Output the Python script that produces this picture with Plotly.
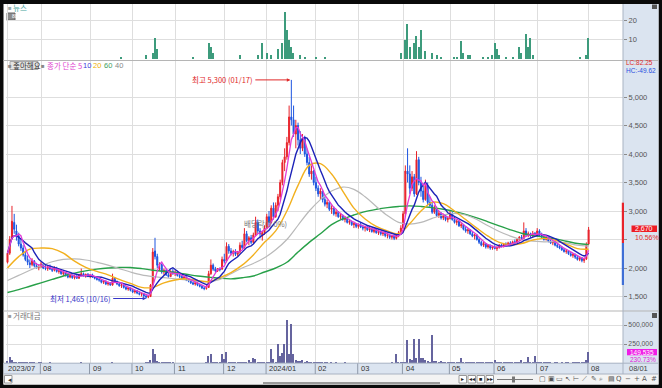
import plotly.graph_objects as go
import pandas as pd

W, H = 662, 388

# ---------------- data ----------------
month_idx = [0, 15, 37, 56, 75, 97, 116, 138, 157, 177, 198, 218, 237, 260]
month_lbl = ["2023/07", "08", "09", "10", "11", "12", "2024/01", "02", "03", "04", "05", "06", "07", "08"]

opens = [2100,2260,2520,2800,2650,2560,2420,2350,2230,2150, 2090,2060,2120,2040,2010,2030,2070,2000,1990,2020,
         1980,1960,2000,1940,1950,1900,1920,1870,1840,1870, 1830,1860,1820,1880,1900,1870,1890,1850,1880,1840,
         1820,1800,1790,1750,1770,1720,1740,1700,1820,1760, 1720,1690,1700,1660,1630,1650,1610,1580,1600,1560,
         1540,1550,1510,1490,1500,1700,2300,2200,2050,2060, 1930,1960,1880,1850,1940,1900,1930,1870,1850,1810,
         1840,1790,1770,1740,1720,1740,1700,1680,1650,1640, 1660,1900,2050,1980,1950,1990,1980,2150,2120,2380,
         2300,2260,2290,2240,2280,2400,2360,2600,2480,2530, 2450,2580,2800,2650,2560,2620,2700,2900,2800,3050,
         2900,3100,3250,3500,3850,3950,4200,4650,4600,4350, 4500,4250,4100,4280,4000,3850,3650,3700,3500,3400,
         3300,3350,3200,3120,3150,3030,3050,2950,2980,2900, 2920,2850,2870,2800,2820,2760,2780,2730,2760,2720,
         2700,2720,2670,2690,2640,2680,2620,2640,2600,2620, 2570,2580,2540,2560,2520,2580,2620,2700,2950,3700,
         3650,3400,3600,3300,3900,3500,3350,3200,3450,3150, 3100,2980,3050,2920,2960,2880,2920,2850,2870,2950,
         2850,2800,2820,2740,2760,2680,2650,2670,2600,2560, 2580,2500,2450,2400,2430,2370,2400,2350,2370,2340,
         2360,2400,2380,2420,2400,2440,2420,2460,2450,2500, 2540,2520,2650,2580,2600,2560,2610,2570,2650,2580,
         2550,2500,2540,2470,2440,2460,2400,2380,2350,2320, 2290,2300,2250,2220,2240,2190,2150,2180,2130,2160,
         2420]
highs = [2300,2560,3090,2950,2760,2620,2520,2400,2280,2220, 2150,2170,2140,2090,2060,2110,2080,2050,2040,2060,
         2010,2030,2020,1980,1960,1940,1930,1900,1890,1880, 1880,1870,1900,1990,1920,1900,1910,1890,1900,1860,
         1850,1830,1800,1790,1780,1760,1750,1900,1840,1780, 1740,1720,1710,1680,1670,1660,1630,1620,1610,1590,
         1570,1560,1530,1520,1720,2350,2530,2250,2100,2080, 1990,1980,1920,1960,1990,1960,1950,1900,1880,1860,
         1850,1820,1790,1760,1760,1750,1720,1700,1680,1700, 1950,2150,2080,2020,2000,2010,2200,2250,2450,2420,
         2350,2320,2330,2300,2450,2480,2700,2650,2560,2580, 2620,2900,2850,2700,2650,2750,2950,3000,3100,3150,
         3150,3300,3550,3900,4100,4300,4850,5300,4850,4600, 4550,4400,4350,4320,4100,3950,3800,3720,3600,3450,
         3400,3380,3250,3200,3160,3100,3080,3020,3000,2960, 2940,2900,2880,2850,2830,2800,2790,2780,2800,2760,
         2740,2730,2720,2700,2700,2690,2660,2650,2640,2630, 2600,2590,2580,2570,2600,2650,2750,3000,3800,4100,
         3800,3700,3650,4050,3950,3600,3450,3550,3500,3250, 3150,3100,3080,3000,2980,2950,2940,2900,3000,2980,
         2900,2850,2830,2800,2770,2720,2700,2680,2640,2600, 2590,2530,2480,2460,2440,2420,2410,2390,2400,2380,
         2420,2430,2440,2450,2460,2470,2480,2500,2520,2560, 2580,2800,2700,2640,2620,2650,2630,2700,2680,2620,
         2580,2560,2550,2500,2480,2470,2430,2410,2380,2350, 2320,2310,2280,2260,2250,2220,2200,2190,2180,2450,
         2720]
lows = [2080,2230,2500,2600,2480,2380,2300,2200,2120,2050, 2000,2030,2010,1990,1960,2000,1980,1960,1950,1970,
        1930,1940,1920,1900,1880,1860,1850,1820,1820,1810, 1800,1810,1810,1860,1850,1830,1840,1820,1830,1800,
        1780,1760,1730,1720,1700,1690,1690,1690,1740,1700, 1670,1650,1640,1610,1600,1590,1560,1550,1540,1520,
        1500,1490,1465,1470,1490,1690,2150,2000,1950,1900, 1880,1860,1830,1840,1880,1860,1850,1820,1790,1790,
        1770,1750,1720,1700,1690,1680,1660,1630,1610,1620, 1650,1880,1950,1920,1930,1940,1970,2080,2100,2250,
        2220,2200,2210,2200,2250,2330,2340,2450,2400,2420, 2440,2560,2600,2520,2480,2580,2680,2750,2780,2850,
        2880,3000,3200,3450,3700,3900,4150,4500,4300,4100, 4150,4000,4050,3950,3800,3600,3550,3450,3350,3250,
        3200,3150,3080,3050,3000,2950,2920,2900,2880,2850, 2830,2800,2780,2760,2740,2700,2700,2690,2700,2660,
        2640,2650,2630,2620,2610,2600,2580,2570,2560,2540, 2520,2510,2500,2490,2500,2540,2600,2680,2900,3500,
        3300,3350,3250,3280,3450,3250,3150,3180,3100,3050, 2950,2950,2900,2880,2850,2840,2820,2800,2850,2830,
        2780,2750,2720,2700,2660,2620,2600,2580,2540,2500, 2480,2420,2380,2370,2340,2340,2320,2320,2330,2300,
        2340,2360,2360,2380,2390,2400,2410,2420,2440,2470, 2500,2510,2550,2540,2530,2550,2550,2560,2560,2520,
        2480,2480,2450,2420,2400,2380,2350,2330,2300,2270, 2250,2230,2200,2180,2160,2130,2120,2100,2090,2140,
        2400]
closes = [2260,2500,2820,2680,2560,2420,2350,2230,2150,2100, 2060,2130,2040,2010,2030,2070,2000,1990,2020,1980,
          1960,2000,1940,1950,1900,1920,1870,1840,1870,1830, 1860,1820,1880,1900,1870,1890,1850,1880,1840,1820,
          1800,1790,1750,1770,1720,1740,1700,1820,1760,1720, 1690,1700,1660,1630,1650,1610,1580,1600,1560,1540,
          1550,1510,1490,1500,1700,2280,2200,2050,2060,1930, 1960,1880,1850,1940,1900,1930,1870,1850,1810,1840,
          1790,1770,1740,1720,1740,1700,1680,1650,1640,1660, 1900,2050,1980,1950,1990,1970,2150,2120,2380,2300,
          2260,2290,2240,2280,2400,2360,2600,2480,2530,2450, 2580,2800,2650,2600,2620,2700,2900,2800,3050,2900,
          3100,3250,3500,3850,3950,4200,4650,4600,4350,4500, 4250,4100,4280,4000,3850,3650,3700,3500,3400,3300,
          3350,3200,3120,3150,3030,3050,2950,2980,2900,2920, 2850,2870,2800,2820,2760,2780,2730,2760,2720,2700,
          2720,2670,2690,2640,2680,2620,2640,2600,2620,2570, 2580,2540,2560,2520,2580,2620,2700,2950,3700,3650,
          3400,3600,3300,3900,3500,3350,3200,3450,3150,3100, 2980,3050,2920,2960,2880,2920,2850,2870,2950,2850,
          2800,2820,2740,2760,2680,2650,2670,2600,2560,2580, 2500,2450,2400,2430,2370,2400,2350,2370,2340,2360,
          2400,2380,2420,2400,2440,2420,2460,2450,2500,2540, 2520,2650,2580,2600,2560,2610,2570,2650,2580,2550,
          2500,2540,2470,2440,2460,2400,2380,2350,2320,2290, 2300,2250,2220,2240,2190,2150,2180,2130,2160,2415,
          2670]
volume = [30000,90000,50000,25000,18000,15000,12000,10000,9000,8000, 8000,7000,9000,6000,7000,8000,6000,5000,6000,7000,
          5000,6000,5000,4000,5000,6000,5000,4000,5000,4000, 5000,4000,6000,8000,5000,4000,4000,5000,4000,4000,
          5000,4000,4000,5000,4000,3000,4000,9000,5000,4000, 4000,3000,4000,5000,4000,4000,5000,4000,5000,4000,
          6000,5000,7000,12000,50000,185000,120000,30000,18000,12000, 10000,8000,7000,9000,7000,6000,5000,5000,4000,5000,
          4000,5000,4000,4000,5000,4000,5000,4000,5000,8000, 104000,126000,15000,12000,10000,8000,126000,60000,148000,20000,
          20000,15000,12000,10000,12000,10000,18000,12000,45000,15000, 70000,55000,25000,15000,12000,10000,20000,15000,193000,60000,
          25000,259000,104000,134000,259000,569000,126000,525000,126000,47000, 37000,28000,47000,15000,28000,15000,12000,10000,9000,8000,
          10000,7000,8000,9000,6000,7000,6000,8000,5000,6000, 5000,7000,5000,6000,5000,4000,5000,6000,5000,4000,
          5000,6000,4000,5000,4000,5000,6000,5000,4000,5000, 4000,5000,12000,6000,126000,20000,15000,15000,20000,303000,
          60000,47000,326000,66000,326000,66000,73000,47000,28000,20000, 372000,37000,28000,15000,37000,12000,10000,12000,15000,10000,
          12000,10000,15000,66000,20000,15000,12000,10000,12000,10000, 15000,12000,10000,8000,10000,12000,8000,10000,47000,10000,
          8000,10000,8000,7000,8000,9000,7000,8000,10000,12000, 47000,15000,12000,80000,20000,15000,100000,15000,10000,8000,
          7000,9000,8000,7000,6000,8000,7000,6000,7000,6000, 8000,7000,6000,7000,8000,9000,10000,12000,15000,47000,
          149535]

news_idx = [51, 62, 65, 66, 67, 83, 90, 91, 92, 104, 112, 114, 116, 118, 121, 123, 124, 125, 126, 127, 128, 131, 133,
            138, 142, 176, 178, 179, 180, 182, 183, 184, 185, 187, 190, 192, 194, 200, 201, 203, 204, 206, 207, 213,
            215, 217, 218, 219, 220, 223, 226, 229, 230, 232, 233, 234, 235, 256, 259, 260]
news_cnt = [1, 2, 3, 11, 5, 1, 8, 6, 3, 2, 2, 8, 3, 2, 5, 8, 24, 15, 10, 6, 3, 2, 1,
            1, 1, 3, 10, 18, 6, 8, 12, 6, 15, 4, 3, 2, 1, 1, 1, 9, 3, 2, 2, 1,
            1, 2, 8, 5, 2, 1, 1, 6, 3, 13, 6, 11, 2, 1, 2, 11]

ma_idx = list(range(0, 261, 5))
ma20 = [2000, 2200, 2330, 2350, 2340, 2260, 2120, 2010, 1940, 1880, 1800, 1730, 1660, 1660, 1740, 1790, 1810, 1780,
        1760, 1830, 1920, 2050, 2230, 2450, 2650, 3000, 3450, 3800, 3830, 3650, 3350, 3050, 2860, 2730, 2650, 2600,
        2780, 3000, 3150, 3130, 3000, 2850, 2700, 2560, 2450, 2410, 2430, 2490, 2520, 2490, 2420, 2340, 2330]
ma40 = [1780, 1870, 1960, 2040, 2110, 2150, 2160, 2140, 2100, 2050, 1990, 1930, 1880, 1850, 1830, 1810, 1790, 1770,
        1760, 1800, 1900, 2000, 2080, 2180, 2320, 2500, 2750, 3000, 3200, 3350, 3420, 3380, 3250, 3080, 2920, 2800,
        2770, 2800, 2870, 2930, 2960, 2930, 2850, 2740, 2640, 2560, 2500, 2470, 2460, 2460, 2440, 2400, 2380]
ma60 = [1570, 1620, 1680, 1740, 1800, 1860, 1910, 1950, 1980, 2000, 2010, 2010, 1990, 1960, 1940, 1920, 1890, 1860,
        1840, 1820, 1810, 1830, 1860, 1930, 2000, 2100, 2280, 2450, 2600, 2760, 2860, 2930, 2990, 3030, 3060, 3080,
        3090, 3080, 3060, 3030, 2990, 2940, 2880, 2810, 2740, 2670, 2610, 2570, 2540, 2510, 2470, 2430, 2410]

assert len(opens) == len(highs) == len(lows) == len(closes) == len(volume) == 261
assert len(news_idx) == len(news_cnt)
assert len(ma20) == len(ma40) == len(ma60) == len(ma_idx)

idx = list(range(len(closes)))
ma5 = pd.Series(closes).rolling(5, min_periods=1).mean()
ma10 = pd.Series(closes).rolling(10, min_periods=1).mean()

# ---------------- geometry helpers ----------------
X0, DX = 7.5, 2.235


def xi(px):
    return (px - X0) / DX


def fx(px):
    return px / W


def fy(py):
    return 1 - py / H


def p_of(py):      # price scale of main panel
    return 5000 - (py - 97) / 0.0570


def n_of(py):      # news scale
    return (59 - py) / 1.95


def v_of(py):      # volume scale
    return (363 - py) * 250000 / 19


RED = "#e8232b"
BLUE = "#1d55e0"
NUMFONT = "Liberation Sans Narrow, Liberation Sans, Arial, sans-serif"
KFONT = "Noto Sans CJK KR, sans-serif"

fig = go.Figure()

fig.add_trace(go.Bar(x=news_idx, y=news_cnt, xaxis="x", yaxis="y", marker=dict(color="#3d9b7c", line=dict(width=0)),
                     width=0.55, showlegend=False))

fig.add_trace(go.Candlestick(x=idx, open=opens, high=highs, low=lows, close=closes, xaxis="x", yaxis="y2",
                             increasing=dict(line=dict(color=RED, width=1), fillcolor=RED),
                             decreasing=dict(line=dict(color=BLUE, width=1), fillcolor=BLUE),
                             whiskerwidth=0, showlegend=False, hoverinfo="skip"))

line_specs = [(ma_idx, ma60, "#27a048", 1.4), (ma_idx, ma40, "#b9b9b9", 1.2), (ma_idx, ma20, "#f2b01e", 1.4),
              (idx, ma10, "#1c22b8", 1.4), (idx, ma5, "#e13bd6", 1.3)]
for xs, ys, col, wdt in line_specs:
    shape = "spline" if xs is ma_idx else "linear"
    fig.add_trace(go.Scatter(x=xs, y=ys, xaxis="x", yaxis="y2", mode="lines", line=dict(color=col, width=wdt, shape=shape),
                             showlegend=False, hoverinfo="skip"))

fig.add_trace(go.Bar(x=idx, y=volume, xaxis="x", yaxis="y3", marker=dict(color="#65649e", line=dict(width=0)),
                     width=0.6, showlegend=False))

GRID = "#dedede"
TICKF = dict(family=NUMFONT, size=7.5, color="#555")
TICKV = dict(family=NUMFONT, size=6.8, color="#555")
fig.update_layout(
    width=W, height=H, margin=dict(l=0, r=0, t=0, b=0),
    paper_bgcolor="#0a0a0a", plot_bgcolor="rgba(0,0,0,0)",
    showlegend=False, bargap=0, boxgap=0.35,
    xaxis=dict(domain=[fx(6), fx(623)], range=[xi(6), xi(623)], anchor="y3", tickmode="array", tickvals=month_idx,
               showticklabels=False, ticks="", showgrid=True, gridcolor=GRID, gridwidth=1, zeroline=False,
               rangeslider=dict(visible=False), showline=False, fixedrange=True),
    yaxis=dict(domain=[fy(60.5), fy(4)], range=[n_of(60.5), n_of(4)], anchor="x", side="right",
               tickvals=[10, 20], ticktext=["10", "20"], showgrid=True, gridcolor=GRID, zeroline=False,
               ticks="outside", ticklen=3, tickcolor="#8a8a8a", tickfont=TICKF),
    yaxis2=dict(domain=[fy(311), fy(61)], range=[p_of(311), p_of(61)], anchor="x", side="right",
                tickvals=[1500, 2000, 2500, 3000, 3500, 4000, 4500, 5000],
                ticktext=["1,500", "2,000", "", "3,000", "3,500", "4,000", "4,500", "5,000"], showgrid=True,
                gridcolor=GRID, zeroline=False, ticks="outside", ticklen=3, tickcolor="#8a8a8a", tickfont=TICKF),
    yaxis3=dict(domain=[fy(363), fy(311.5)], range=[0, v_of(311.5)], anchor="x", side="right",
                tickvals=[250000, 500000], ticktext=["250,000", "500,000"], showgrid=True, gridcolor=GRID,
                zeroline=False, ticks="outside", ticklen=3, tickcolor="#8a8a8a", tickfont=TICKV),
)

shapes = []


def prect(x0, y0, x1, y1, fill, line=None, layer="below", lw=1):
    shapes.append(dict(type="rect", xref="paper", yref="paper", x0=fx(x0), x1=fx(x1), y0=fy(y1), y1=fy(y0),
                       fillcolor=fill, line=dict(color=line or "rgba(0,0,0,0)", width=lw if line else 0), layer=layer))


def pline(x0, y0, x1, y1, col, lw=1, layer="above"):
    shapes.append(dict(type="line", xref="paper", yref="paper", x0=fx(x0), x1=fx(x1), y0=fy(y0), y1=fy(y1),
                       line=dict(color=col, width=lw), layer=layer))


AX_BG = "#dbe4f0"
prect(3.5, 4, 658.5, 384.5, "#ffffff")
prect(623, 4, 658.5, 363, AX_BG)
prect(3.5, 363, 658.5, 374, AX_BG)
prect(3.5, 374, 658.5, 384.5, "#f3f3f3")
pline(3.5, 60.5, 658.5, 60.5, "#b5b5b5")
pline(3.5, 311, 658.5, 311, "#b5b5b5")
pline(623, 4, 623, 374, "#a9b3c2")
pline(3.5, 363.2, 658.5, 363.2, "#a9b3c2")
pline(3.5, 374, 658.5, 374, "#a9b3c2")
# price range bar on the right edge of the main panel
prect(621.8, 202.7, 624, 243, RED, layer="above")
prect(621.8, 243, 624, 285, "#3f6fd6", layer="above")
# date row separators
for mi in month_idx[1:]:
    shapes.append(dict(type="line", xref="x", yref="paper", x0=mi - 0.3, x1=mi - 0.3, y0=fy(374), y1=fy(363.5),
                       line=dict(color="#8e98a8", width=1), layer="above"))
# small panel buttons
prect(7, 13, 15, 20, "#8c8c8c", line="#666")
prect(652, 4.5, 657, 9, "#555")
prect(652, 313, 657, 318, "#555")
# legend box
prect(10, 61.5, 38, 69.5, "#e4e4e4", line="#aaa")
# toolbar pieces
prect(4.5, 375.5, 12, 383, "#ffffff", line="#999")
pline(263, 383, 440, 383, "#9a9a9a", lw=2)
for bx in [459, 468, 477, 486]:
    prect(bx, 375.5, bx + 7.5, 383, "#ffffff", line="#999")
pline(497, 379.5, 533, 379.5, "#777", lw=1)
prect(512, 376.5, 515, 382.5, "#777")
# value boxes on the right axis
prect(631.5, 225.5, 657, 232, "#ee1c25", layer="above")
prect(627, 349, 657, 355.3, "#f01ee6", layer="above")
fig.update_layout(shapes=shapes)

ann = []


def text(x, y, s, col="#555", size=8, xanchor="left", fam=NUMFONT, xref="paper", yref="paper", bg=None):
    d = dict(x=x if xref != "paper" else fx(x), y=y if yref != "paper" else fy(y), xref=xref, yref=yref, text=s,
             showarrow=False, xanchor=xanchor, yanchor="middle", font=dict(family=fam, size=size, color=col))
    if bg:
        d["bgcolor"] = bg
    ann.append(d)


# panel titles / legend
text(5.5, 7.5, "■", "#9aa", 6)
text(11, 7.5, "뉴스", "#49a5a0", 7.5, fam=KFONT)
text(9.5, 16.5, "88", "#fff", 5)
text(5.5, 65.5, "■", "#888", 6)
text(11, 65.5, "좋아해요", "#333", 7.5, fam=KFONT)
text(38.5, 65.5, "■", "#888", 6)
text(44.5, 65.5, "종가 단순 5", "#e03fcf", 7.5, fam=KFONT)
text(80.5, 65.5, "10", "#3c3cdc", 7.5)
text(91.5, 65.5, "20", "#f0b000", 7.5)
text(101.5, 65.5, "60", "#3e9e5e", 7.5)
text(112.5, 65.5, "40", "#888", 7.5)
text(5.5, 315.5, "■", "#999", 6)
text(11, 315.5, "거래대금", "#777", 7.5, fam=KFONT)

# right axis extras
text(624, 62.3, "LC:82.25", "#e02828", 6.5)
text(624, 70.3, "HC:-49.62", "#2a4fe0", 6.5)
text(632.5, 228.8, "2,670", "#ffffff", 7)
text(632.5, 237.2, "10.56%", "#e02828", 7)
text(628, 352.2, "149,535", "#ffffff", 6.5)
text(628, 359.3, "230.73%", "#e020d8", 6.5)
text(627, 368.5, "08/01", "#444", 7.5)

# month labels on the date row
for mi, lb in zip(month_idx, month_lbl):
    text(mi + (0.2 if mi else -0.6), 368.5, lb, "#333", 7.5, xref="x")

# chart annotations
ann.append(dict(x=127, y=5300, xref="x", yref="y2", ax=-36, ay=0, text="최고 5,300 (01/17)",
                showarrow=True, arrowhead=2, arrowsize=0.7, arrowwidth=1, arrowcolor="#e02828", standoff=1,
                font=dict(family=KFONT, size=7.5, color="#e02828"), xanchor="right"))
ann.append(dict(x=62.5, y=1465, xref="x", yref="y2", ax=-34, ay=0, text="최저 1,465 (10/16)",
                showarrow=True, arrowhead=2, arrowsize=0.7, arrowwidth=1, arrowcolor="#3535c8", standoff=1,
                font=dict(family=KFONT, size=7.5, color="#3535c8"), xanchor="right"))
text(xi(241.5), p_of(223.5), "배당락(0.0%)", "#777", 7.5, fam=KFONT, xref="x", yref="y2")

# toolbar glyphs
text(5.8, 379.3, "◂", "#333", 7)
for bx, g in zip([459, 468, 477, 486], ["▸", "◂◂", "■", "▸▸"]):
    text(bx + 3.75, 379.3, g, "#222", 5.5, xanchor="center")
tools = ["▢", "▣", "▭", "↖", "⊢", "⟋", "✎", "⌕", "▤", "Q", "−", "+", "A", "#"]
for k, g in enumerate(tools):
    text(537 + k * 8.6, 379.3, g, "#555", 7, xanchor="left", fam="DejaVu Sans")

fig.update_layout(annotations=ann)
fig.write_html("out.html")
